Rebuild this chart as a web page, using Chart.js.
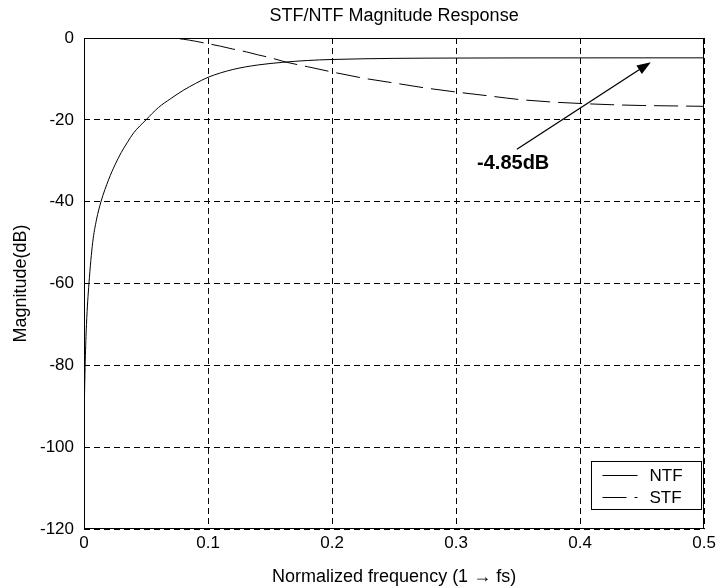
<!DOCTYPE html>
<html>
<head>
<meta charset="utf-8">
<script src="https://cdn.jsdelivr.net/npm/chart.js@4"></script>
<style>
  body { margin: 0; background: #fff; }
  #wrap { width: 720px; height: 586px; }
</style>
</head>
<body>
<div id="wrap"><canvas id="myChart" width="720" height="586"></canvas></div>
<script>
// values
const ntfFreq = [0, 0.0005, 0.001, 0.002, 0.004, 0.007, 0.01, 0.0137, 0.02, 0.025, 0.03, 0.035, 0.04,
  0.05, 0.06, 0.07, 0.08, 0.09, 0.1, 0.12, 0.14, 0.16, 0.18, 0.2, 0.25, 0.3, 0.35, 0.4, 0.45, 0.5];
const ntfDb = [-95, -86, -79, -70, -60, -50, -44.5, -40, -34.5, -31, -28, -25.5, -23.2,
  -20, -17, -14.8, -12.8, -11.1, -9.6, -7.7, -6.6, -5.95, -5.5, -5.25, -4.98, -4.9, -4.87, -4.86, -4.85, -4.85];

const stfFreq = [0, 0.05, 0.07, 0.08, 0.09, 0.1, 0.11, 0.12, 0.131, 0.14, 0.15, 0.163, 0.18, 0.2,
  0.225, 0.25, 0.275, 0.3, 0.325, 0.35, 0.375, 0.4, 0.425, 0.45, 0.475, 0.5];
const stfDb = [0, 0, -0.1, -0.3, -0.8, -1.4, -2.0, -2.7, -3.4, -4.1, -4.8, -5.9, -7.0, -8.3,
  -9.8, -11.0, -12.2, -13.2, -14.1, -15.0, -15.6, -16.0, -16.3, -16.5, -16.6, -16.7];

const xTicks = [0, 0.1, 0.2, 0.3, 0.4, 0.5];
const xTickLabels = ["0", "0.1", "0.2", "0.3", "0.4", "0.5"];
const yTicks = [0, -20, -40, -60, -80, -100, -120];
const yTickLabels = ["0", "-20", "-40", "-60", "-80", "-100", "-120"];

const titleText = "STF/NTF Magnitude Response";

// annotation: label and arrow, in data units
const noteText = "-4.85dB";
const noteAt = [0.346, -30.6];
const arrowFrom = [0.349, -27.2];
const arrowTo = [0.457, -5.9];

const FONT = "'Liberation Sans', Arial, sans-serif";
Chart.defaults.font.family = FONT;
Chart.defaults.color = "#000";

function pts(xs, ys) {
  return xs.map((x, i) => ({ x: x, y: ys[i] }));
}

// box round the plot + title centred over the plot area
const frame = {
  id: "frame",
  afterDraw(chart) {
    const { ctx, chartArea: a } = chart;
    ctx.save();
    ctx.strokeStyle = "#000";
    ctx.lineWidth = 1;
    ctx.setLineDash([]);
    ctx.strokeRect(Math.round(a.left) + 0.5, Math.round(a.top) + 0.5,
      Math.round(a.right - a.left) - 1, Math.round(a.bottom - a.top) - 1);
    ctx.font = "18px " + FONT;
    ctx.fillStyle = "#000";
    ctx.textAlign = "center";
    ctx.textBaseline = "middle";
    ctx.fillText(titleText, (a.left + a.right) / 2, a.top - 22);
    ctx.restore();
  }
};

const note = {
  id: "note",
  afterDatasetsDraw(chart) {
    const { ctx, scales } = chart;
    const sx = scales.x, sy = scales.y;
    const x1 = sx.getPixelForValue(arrowFrom[0]), y1 = sy.getPixelForValue(arrowFrom[1]);
    const x2 = sx.getPixelForValue(arrowTo[0]), y2 = sy.getPixelForValue(arrowTo[1]);
    const ang = Math.atan2(y2 - y1, x2 - x1);
    const len = 14, half = 5;
    ctx.save();
    ctx.strokeStyle = "#000";
    ctx.fillStyle = "#000";
    ctx.lineWidth = 1.3;
    ctx.beginPath();
    ctx.moveTo(x1, y1);
    ctx.lineTo(x2 - len * Math.cos(ang), y2 - len * Math.sin(ang));
    ctx.stroke();
    ctx.beginPath();
    ctx.moveTo(x2, y2);
    ctx.lineTo(x2 - len * Math.cos(ang) + half * Math.sin(ang), y2 - len * Math.sin(ang) - half * Math.cos(ang));
    ctx.lineTo(x2 - len * Math.cos(ang) - half * Math.sin(ang), y2 - len * Math.sin(ang) + half * Math.cos(ang));
    ctx.closePath();
    ctx.fill();
    ctx.font = "bold 20px " + FONT;
    ctx.textAlign = "center";
    ctx.textBaseline = "middle";
    ctx.fillText(noteText, sx.getPixelForValue(noteAt[0]), sy.getPixelForValue(noteAt[1]));
    ctx.restore();
  }
};

// MATLAB style legend box inside the plot, lower right
const boxLegend = {
  id: "boxLegend",
  afterDraw(chart) {
    const { ctx, chartArea: a } = chart;
    const w = 110, h = 48;
    const left = Math.round(a.right - 3 - w) + 0.5;
    const top = Math.round(a.bottom - 20 - h) + 0.5;
    ctx.save();
    ctx.fillStyle = "#fff";
    ctx.fillRect(left, top, w, h);
    ctx.strokeStyle = "#000";
    ctx.lineWidth = 1;
    ctx.strokeRect(left, top, w, h);
    ctx.font = "17px " + FONT;
    ctx.textBaseline = "middle";
    ctx.fillStyle = "#000";
    chart.data.datasets.forEach((ds, i) => {
      const y = top + 14 + i * 22;
      ctx.setLineDash(ds.borderDash || []);
      ctx.lineWidth = 1;
      ctx.beginPath();
      ctx.moveTo(left + 11, y);
      ctx.lineTo(left + 46, y);
      ctx.stroke();
      ctx.setLineDash([]);
      ctx.fillText(ds.label, left + 58, y + 1);
    });
    ctx.restore();
  }
};

const ctx = document.getElementById("myChart");
new Chart(ctx, {
  type: "line",
  data: {
    datasets: [
      {
        label: "NTF",
        data: pts(ntfFreq, ntfDb),
        borderColor: "#000",
        borderWidth: 1,
        pointRadius: 0,
        cubicInterpolationMode: "monotone",
      },
      {
        label: "STF",
        data: pts(stfFreq, stfDb),
        borderColor: "#000",
        borderWidth: 1,
        borderDash: [24, 8],
        pointRadius: 0,
        cubicInterpolationMode: "monotone",
      },
    ],
  },
  options: {
    responsive: false,
    animation: false,
    layout: { padding: { left: 0, right: 15, top: 38, bottom: 0 } },
    plugins: {
      legend: { display: false },
      tooltip: { enabled: false },
      title: { display: false },
    },
    scales: {
      x: {
        type: "linear",
        min: 0,
        max: 0.5,
        afterBuildTicks: (s) => { s.ticks = xTicks.map((v) => ({ value: v })); },
        afterFit: (s) => { s.height = 57; },
        ticks: {
          font: { size: 17 },
          padding: 4,
          maxRotation: 0,
          callback: (v) => xTickLabels[xTicks.indexOf(v)],
        },
        grid: { color: "#000", lineWidth: 1, drawTicks: false },
        border: { display: false, dash: [6, 4] },
        title: {
          display: true,
          text: "Normalized frequency (1 \u2192 fs)",
          font: { size: 18, lineHeight: 1 },
          padding: { top: 0, bottom: 0 },
        },
      },
      y: {
        type: "linear",
        min: -120,
        max: 0,
        afterBuildTicks: (s) => { s.ticks = yTicks.slice().reverse().map((v) => ({ value: v })); },
        afterFit: (s) => { s.width = 84; },
        ticks: {
          font: { size: 17 },
          padding: 10,
          callback: (v) => yTickLabels[yTicks.indexOf(v)],
        },
        grid: { color: "#000", lineWidth: 1, drawTicks: false },
        border: { display: false, dash: [6, 4] },
        title: {
          display: true,
          text: "Magnitude(dB)",
          font: { size: 18 },
          padding: { top: 10, bottom: 0 },
        },
      },
    },
  },
  plugins: [frame, note, boxLegend],
});
</script>
</body>
</html>
